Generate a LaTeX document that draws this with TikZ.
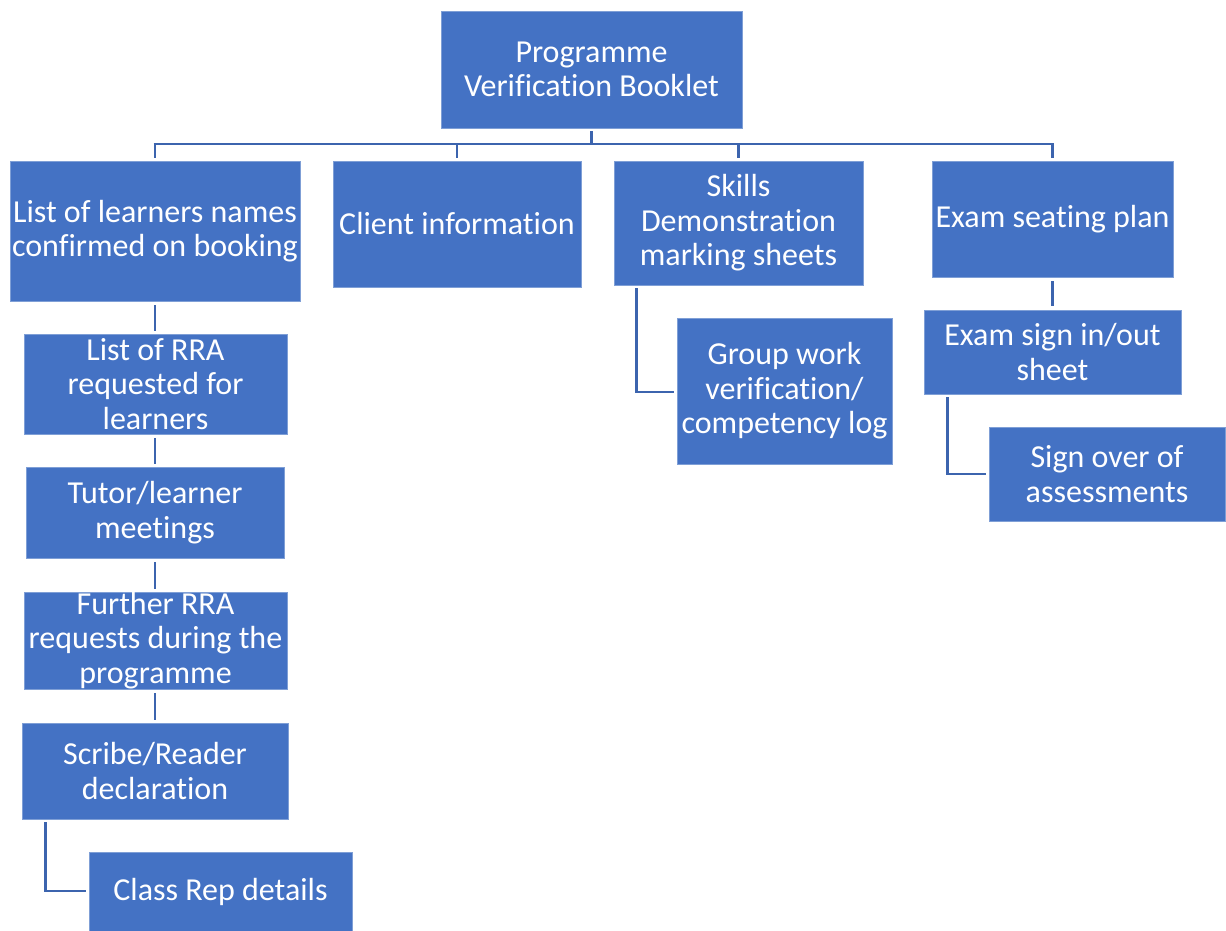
\documentclass[tikz,border=0pt]{standalone}
\usepackage{fontspec}
\setmainfont{Carlito}[Ligatures=NoCommon]
\definecolor{boxfill}{HTML}{4472C4}
\definecolor{boxedge}{HTML}{7F9FD6}
\definecolor{linkcol}{HTML}{3C64AE}
\begin{document}
\begin{tikzpicture}[x=1pt,y=-1pt,
  box/.style={rectangle,fill=boxfill,draw=boxedge,line width=0.8pt,inner xsep=0pt,inner ysep=-15pt,
    text=white,align=center,font=\fontsize{32}{34.5}\selectfont},
  link/.style={draw=linkcol,line width=2.6pt}]
\useasboundingbox (0,0) rectangle (1226,931);
\fill[white] (0,0) rectangle (1226,931);

% top of the hierarchy
\node[box,minimum width=301,minimum height=117] (top) at (591.5,69.5) {Programme\\Verification Booklet};

% first level
\node[box,minimum width=290,minimum height=140] (l1) at (155,231) {List of learners names\\confirmed on booking};
\node[box,minimum width=248,minimum height=126] (client) at (457,224) {Client information};
\node[box,minimum width=249,minimum height=124] (skills) at (738.5,223) {Skills\\Demonstration\\marking sheets};
\node[box,minimum width=241,minimum height=116] (seat) at (1052.5,219) {Exam seating plan};

% left column
\node[box,minimum width=263,minimum height=100] (rra) at (155.5,384) {List of RRA\\requested for\\learners};
\node[box,minimum width=258,minimum height=91] (tutor) at (155,512.5) {Tutor/learner\\meetings};
\node[box,minimum width=263,minimum height=97] (further) at (155.5,640.5) {Further RRA\\requests during the\\programme};
\node[box,minimum width=266,minimum height=96] (scribe) at (155,771) {Scribe/Reader\\declaration};
\node[box,minimum width=263,minimum height=79] (classrep) at (220.5,892) {Class Rep details};

% skills branch
\node[box,minimum width=215,minimum height=146] (group) at (784.5,391) {Group work\\verification/\\competency log};

% exam branch
\node[box,minimum width=257,minimum height=84] (sign) at (1052.5,352) {Exam sign in/out\\sheet};
\node[box,minimum width=236,minimum height=94] (signover) at (1107,474) {Sign over of\\assessments};

% bus below the top box
\coordinate (bus) at (0,144);
\draw[link] ([yshift=-3pt]top.south) -- (top.south |- bus);
\draw[link] ([xshift=-1.3pt]l1.north |- bus) -- ([xshift=1.3pt]seat.north |- bus);
\draw[link] (l1.north |- bus) -- ([yshift=3pt]l1.north);
\draw[link] (client.north |- bus) -- ([yshift=3pt]client.north);
\draw[link] (skills.north |- bus) -- ([yshift=3pt]skills.north);
\draw[link] (seat.north |- bus) -- ([yshift=3pt]seat.north);

% vertical chain on the left
\draw[link] ([yshift=-4pt]l1.south) -- ([yshift=3pt]l1.south |- rra.north);
\draw[link] ([yshift=-4pt]l1.south |- rra.south) -- ([yshift=3pt]l1.south |- tutor.north);
\draw[link] ([yshift=-4pt]l1.south |- tutor.south) -- ([yshift=3pt]l1.south |- further.north);
\draw[link] ([yshift=-4pt]l1.south |- further.south) -- ([yshift=3pt]l1.south |- scribe.north);
\draw[link] ([xshift=24pt,yshift=-3pt]scribe.south west) |- ([xshift=-3pt,yshift=1pt]classrep.west);

% elbows on the right
\draw[link] ([xshift=23pt,yshift=-3pt]skills.south west) |- ([xshift=-3pt,yshift=-1pt]group.west);
\draw[link] ([yshift=-4pt]seat.south) -- ([yshift=4pt]seat.south |- sign.north);
\draw[link] ([xshift=24pt,yshift=-3pt]sign.south west) |- ([xshift=-3pt]signover.west);
\end{tikzpicture}
\end{document}
